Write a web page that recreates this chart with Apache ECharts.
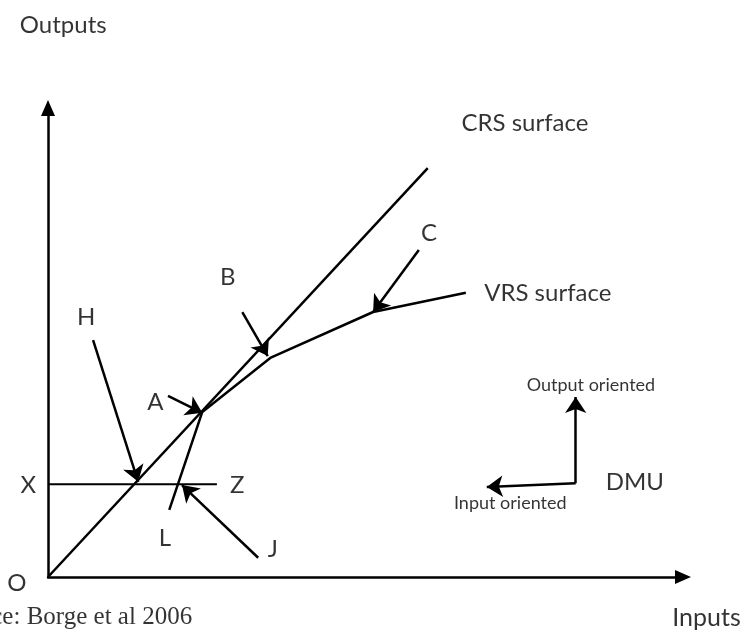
<!DOCTYPE html>
<html>
<head>
<meta charset="utf-8">
<script src="https://cdn.jsdelivr.net/npm/echarts@6/dist/echarts.min.js"></script>
<style>
  html, body { margin: 0; padding: 0; background: #fff; }
  #chart { width: 746px; height: 630px; }
</style>
</head>
<body>
<div id="chart"></div>
<script>
// diagram units: origin O at (0,0), both axes run 0..10
const crsLine = [[0, 0], [5.98, 8.72]]
const vrsLine = [[1.91, 1.43], [2.43, 3.52], [3.50, 4.67], [5.12, 5.65], [6.58, 6.06]]
const xzLine = [[0, 1.98], [2.66, 1.98]]

// pointer arrows: [from, to]
const pointers = [
  [[0.71, 5.05], [1.42, 2.03]],   // H
  [[1.89, 3.86], [2.43, 3.50]],   // A
  [[3.06, 5.65], [3.46, 4.71]],   // B
  [[5.84, 6.97], [5.12, 5.65]],   // C
  [[3.31, 0.41], [2.11, 1.96]],   // J
  [[8.31, 2.00], [8.31, 3.84]],   // output oriented
  [[8.31, 2.00], [6.91, 1.92]]    // input oriented
]

// labels: [x, y, text]
const letters = [
  [0.24, 11.77, 'Outputs'],
  [7.51, 9.68, 'CRS surface'],
  [6.00, 7.33, 'C'],
  [7.87, 6.06, 'VRS surface'],
  [2.83, 6.40, 'B'],
  [0.60, 5.54, 'H'],
  [1.69, 3.73, 'A'],
  [-0.31, 1.96, 'X'],
  [2.98, 1.96, 'Z'],
  [1.84, 0.83, 'L'],
  [3.54, 0.60, 'J'],
  [-0.49, -0.13, 'O'],
  [9.24, 2.03, 'DMU']
]
const axisTitles = [[9.83, -0.87, 'Inputs']]
const smallLabels = [
  [8.55, 4.09, 'Output oriented'],
  [7.28, 1.58, 'Input oriented']
]
const sourceNote = [[2.27, -0.87, 'Source: Borge et al 2006']]

const chart = echarts.init(document.getElementById('chart'))

const axisBase = {
  type: 'value',
  min: 0,
  max: 10,
  axisLine: {
    show: true,
    symbol: ['none', 'triangle'],
    symbolSize: [14, 16],
    lineStyle: { color: '#000', width: 2.5 }
  },
  axisTick: { show: false },
  axisLabel: { show: false },
  splitLine: { show: false }
}

const textSeries = (rows, style) => ({
  type: 'scatter',
  symbolSize: 0,
  clip: false,
  silent: true,
  data: rows.map(r => ({ value: [r[0], r[1]], name: r[2] })),
  label: Object.assign({
    show: true,
    position: 'inside',
    formatter: p => p.name,
    color: '#000'
  }, style)
})

const option = {
  animation: false,
  grid: { left: 48, right: 63, top: 108, bottom: 53 },
  xAxis: axisBase,
  yAxis: axisBase,
  series: [
    {
      type: 'line', data: crsLine, showSymbol: false, clip: false,
      lineStyle: { color: '#000', width: 2.5 }
    },
    {
      type: 'line', data: vrsLine, showSymbol: false, clip: false,
      lineStyle: { color: '#000', width: 2.5 }
    },
    {
      type: 'line', data: xzLine, showSymbol: false, clip: false,
      lineStyle: { color: '#000', width: 2 }
    },
    {
      type: 'lines',
      coordinateSystem: 'cartesian2d',
      symbol: ['none', 'arrow'],
      symbolSize: 16,
      lineStyle: { color: '#000', width: 2.5, opacity: 1 },
      data: pointers.map(p => ({ coords: p }))
    },
    textSeries(letters, { fontFamily: 'Lato', fontSize: 24 }),
    textSeries(axisTitles, { fontFamily: 'Lato', fontSize: 25, position: 'right', distance: 0 }),
    textSeries(smallLabels, { fontFamily: 'Lato', fontSize: 18 }),
    textSeries(sourceNote, { fontFamily: 'Liberation Serif', fontSize: 25, position: 'left', distance: 0 })
  ]
}

chart.setOption(option)
</script>
</body>
</html>
